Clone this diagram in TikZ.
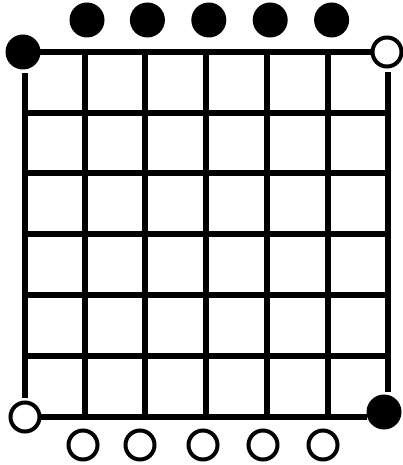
\documentclass[tikz,border=0pt]{standalone}
\usepackage{tikz}
\usetikzlibrary{positioning}
\tikzset{
  blackstone/.style={circle, fill=black, inner sep=0pt, minimum size=35pt},
  whitestone/.style={circle, draw=black, fill=white, line width=4pt, inner sep=0pt, minimum size=29pt},
  gridline/.style={line width=5.4pt, draw=black},
  edgeline/.style={gridline, shorten >=-1pt, shorten <=-1pt}
}
\begin{document}
\begin{tikzpicture}[x=1pt, y=-1pt]
        \useasboundingbox (0,0) rectangle (403,465);
        % inner grid
        \foreach \gx in {85,145,206,267,328}
          \draw[gridline] (\gx,52) -- (\gx,417);
        \foreach \gy in {113,173,234,295,356}
          \draw[gridline] (25,\gy) -- (388,\gy);
        % corners
        \node[blackstone] (tl) at (23,52) {};
        \node[whitestone] (tr) at (387,52) {};
        \node[whitestone] (bl) at (25,417) {};
        \node[blackstone] (br) at (384,412) {};
        \coordinate (lt) at (25,73);
        \coordinate (lb) at (25,398);
        \coordinate (rt) at (388,72);
        \coordinate (rb) at (388,392);
        \draw[edgeline] (tl) -- (tr);
        \draw[edgeline] (bl) -- (bl -| br.west);
        \draw[gridline] (lt) -- (lb);
        \draw[gridline] (rt) -- (rb);
        % top row
        \node[blackstone] (t1) at (87,20) {};
        \node[blackstone, right=25pt of t1] (t2) {};
        \node[blackstone, right=26pt of t2] (t3) {};
        \node[blackstone, right=26pt of t3] (t4) {};
        \node[blackstone, right=26pt of t4] (t5) {};
        % bottom row
        \node[whitestone] (b1) at (83,445) {};
        \node[whitestone] (b2) at (140,445) {};
        \node[whitestone] (b3) at (203,445) {};
        \node[whitestone] (b4) at (263,445) {};
        \node[whitestone] (b5) at (323,445) {};
      \end{tikzpicture}
\end{document}
